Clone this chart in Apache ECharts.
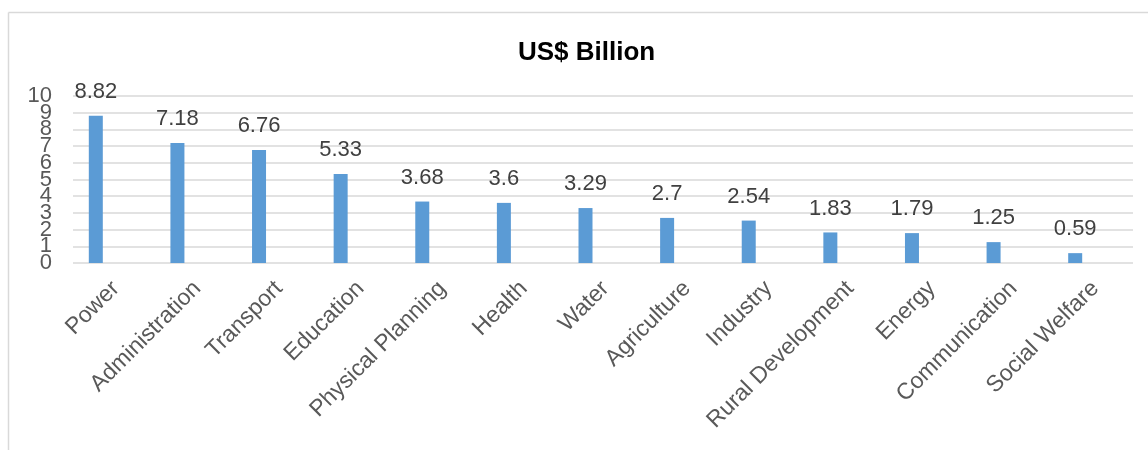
<!DOCTYPE html>
<html>
<head>
<meta charset="utf-8">
<script src="https://cdn.jsdelivr.net/npm/echarts@6/dist/echarts.min.js"></script>
<style>
  html, body { margin: 0; padding: 0; background: #fff; }
  #chart { width: 1148px; height: 450px; }
</style>
</head>
<body>
<div id="chart"></div>
<script>
// sectors and their allocations (US$ billion)
let sectors = ['Power', 'Administration', 'Transport', 'Education', 'Physical Planning', 'Health',
    'Water', 'Agriculture', 'Industry', 'Rural Development', 'Energy', 'Communication', 'Social Welfare'];
let billions = [8.82, 7.18, 6.76, 5.33, 3.68, 3.6, 3.29, 2.7, 2.54, 1.83, 1.79, 1.25, 0.59];
let evenTicks = [0, 2, 4, 6, 8, 10];
let oddTicks = [1, 3, 5, 7, 9];

let font = '"Liberation Sans", Arial, sans-serif';
let chart = echarts.init(document.getElementById('chart'), null, {renderer: 'canvas'});

// y labels overlap each other like in the excel original, so odd and even ones
// sit on two stacked axes (otherwise echarts drops some of them)
function yLabelAxis(ticks) {
    return {
        type: 'value', gridIndex: 0, min: 0, max: 10, interval: 1, position: 'left',
        axisLine: {show: false}, axisTick: {show: false}, splitLine: {show: false},
        axisLabel: {margin: 3, fontFamily: font, fontSize: 22, color: '#595959',
            showMinLabel: true, showMaxLabel: true,
            formatter: v => ticks.includes(v) ? String(v) : ''}
    };
}

// grid 0 : bars, grid 1 : gridlines (shifted right like the original), grid 2 : category labels
let option = {
    animation: false,
    title: {
        text: 'US$ Billion',
        left: 513,
        top: 35,
        textStyle: {fontFamily: font, fontSize: 26, fontWeight: 'bold', color: '#000'}
    },
    graphic: [
        {type: 'line', shape: {x1: 8.5, y1: 12.5, x2: 1148, y2: 12.5}, style: {stroke: '#d9d9d9', lineWidth: 1.5}},
        {type: 'line', shape: {x1: 8.5, y1: 12.5, x2: 8.5, y2: 450}, style: {stroke: '#d9d9d9', lineWidth: 1.5}}
    ],
    grid: [
        {left: 55, right: 32, top: 96, bottom: 187},
        {left: 73, right: 15, top: 96, bottom: 187},
        {left: 75, right: 12, top: 96, bottom: 187}
    ],
    xAxis: [
        {type: 'category', gridIndex: 0, data: sectors, axisLine: {show: false}, axisTick: {show: false}, axisLabel: {show: false}},
        {type: 'category', gridIndex: 1, show: false, data: sectors},
        {
            type: 'category', gridIndex: 2, data: sectors,
            axisLine: {show: false}, axisTick: {show: false},
            axisLabel: {rotate: 45, margin: 22, fontFamily: font, fontSize: 23, color: '#595959', interval: 0}
        }
    ],
    yAxis: [
        yLabelAxis(evenTicks),
        {
            type: 'value', gridIndex: 1, min: 0, max: 10, interval: 1,
            axisLine: {show: false}, axisTick: {show: false}, axisLabel: {show: false},
            splitLine: {lineStyle: {color: '#d9d9d9', width: 1.5}}
        },
        {type: 'value', gridIndex: 2, min: 0, max: 10, show: false},
        yLabelAxis(oddTicks)
    ],
    series: [{
        type: 'bar',
        xAxisIndex: 0, yAxisIndex: 0,
        data: billions,
        barWidth: 14,
        itemStyle: {color: '#5B9BD5'},
        z: 5,
        label: {show: true, position: 'top', distance: 13, fontFamily: font, fontSize: 22, color: '#404040'}
    }]
};

chart.setOption(option);
</script>
</body>
</html>
